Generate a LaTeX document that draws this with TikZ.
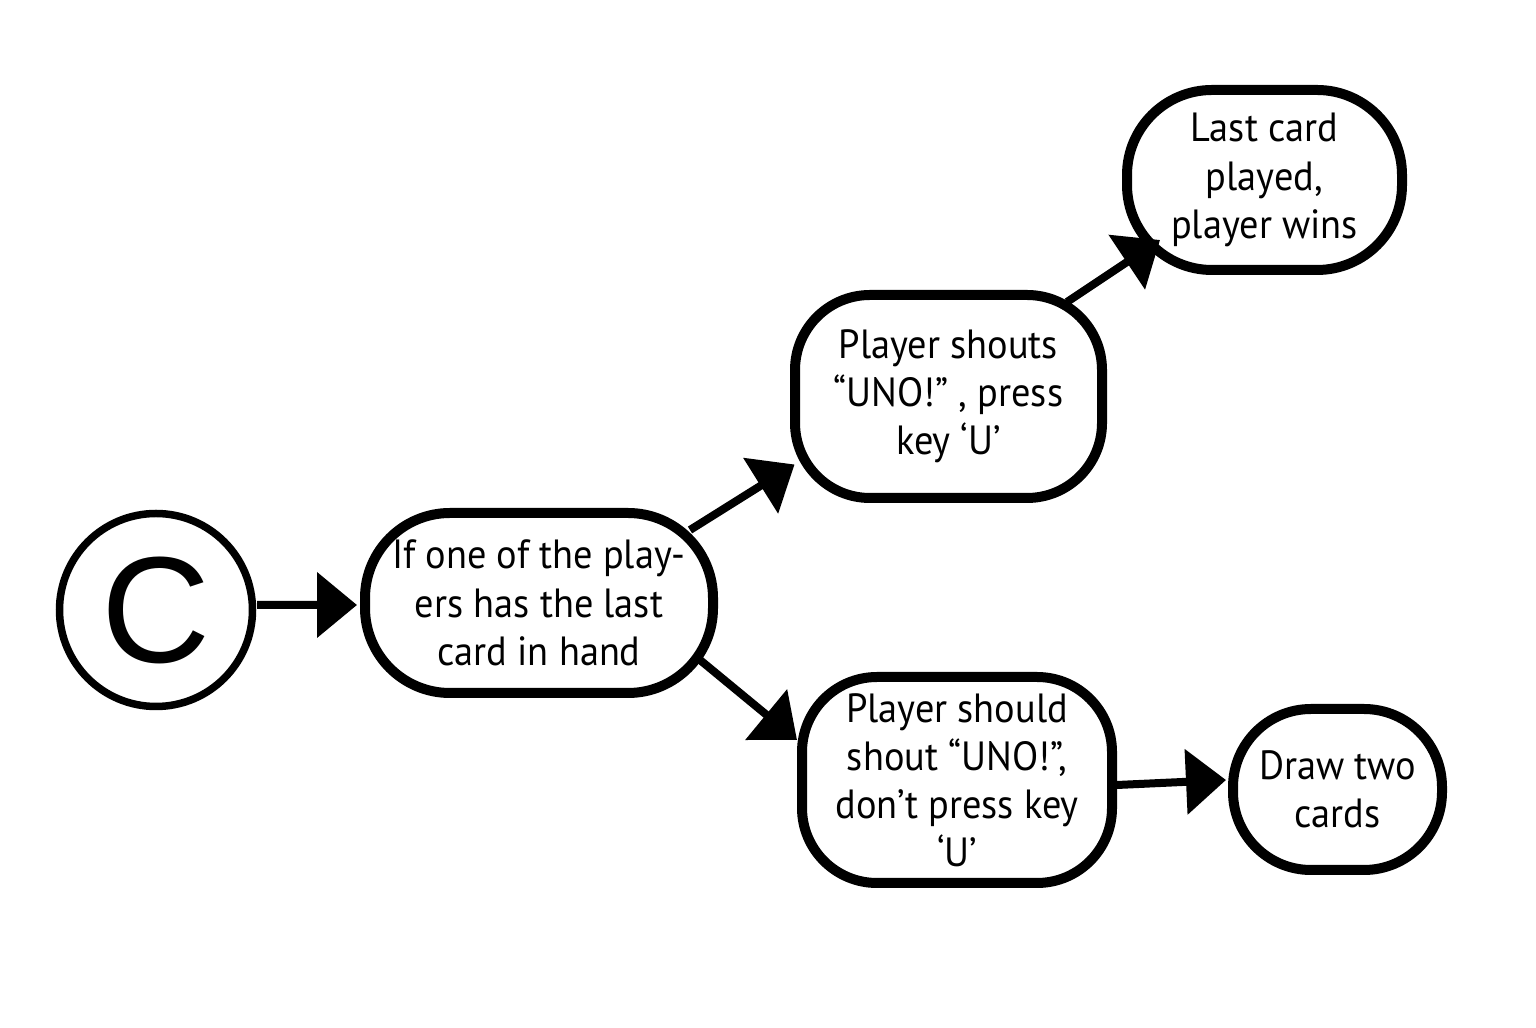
\documentclass[tikz,border=0pt]{standalone}
\usepackage{fontspec}
\setmainfont{PT Sans}[FakeStretch=0.94]
\newfontfamily\bigletter{Liberation Sans}
\usepackage{tikz}
\usetikzlibrary{calc,arrows.meta}
\tikzset{
	blob/.style={draw, line width=0.1cm, rounded corners=0.8cm, align=center, inner sep=0pt, font=\fontsize{11.6}{13.7}\selectfont},
	arr/.style={line width=0.08cm, -{Triangle[length=0.4cm,width=0.64cm]}},
}

\begin{document}
\begin{tikzpicture}
		%%%%% START %%%%%
		
		\useasboundingbox (0, 0) rectangle (15.36, 10.28);
		
		\node[draw, circle, line width=0.075cm, minimum size=1.93cm, inner sep=0pt, font=\bigletter\fontsize{43}{44}\selectfont] (C) at (1.56, 4.18) {C};
		
		\node[blob, minimum width=3.48cm, minimum height=1.80cm, rounded corners=0.85cm] (hand) at (5.39, 4.25) {If one of the play-\\ers has the last\\card in hand};
		\node[blob, minimum width=3.07cm, minimum height=2.03cm, rounded corners=0.75cm] (shouts) at (9.485, 6.315) {Player shouts\\“UNO!” , press\\key ‘U’};
		\node[blob, minimum width=2.75cm, minimum height=1.80cm, rounded corners=0.85cm] (wins) at (12.645, 8.48) {Last card\\played,\\player wins};
		\node[blob, minimum width=3.10cm, minimum height=2.06cm, rounded corners=0.75cm] (should) at (9.57, 2.48) {Player should\\shout “UNO!”,\\don’t press key\\‘U’};
		\node[blob, minimum width=2.09cm, minimum height=1.61cm, rounded corners=0.78cm] (draw) at (13.375, 2.385) {Draw two\\cards};
		
		\draw[arr] ($(C.center)+(1.01, 0.05)$) -- ($(hand.center)+(-1.82, -0.02)$);
		\draw[arr] ($(hand.center)+(1.51, 0.73)$) -- ($(shouts.center)+(-1.54, -0.68)$);
		\draw[arr] ($(shouts.center)+(1.185, 0.945)$) -- ($(wins.center)+(-1.045, -0.60)$);
		\draw[arr] ($(hand.center)+(1.61, -0.57)$) -- ($(should.center)+(-1.60, 0.40)$);
		\draw[arr] ($(should.center)+(1.60, -0.05)$) -- ($(draw.center)+(-1.115, 0.095)$);
		
		%%%%% END %%%%%
	\end{tikzpicture}
\end{document}
